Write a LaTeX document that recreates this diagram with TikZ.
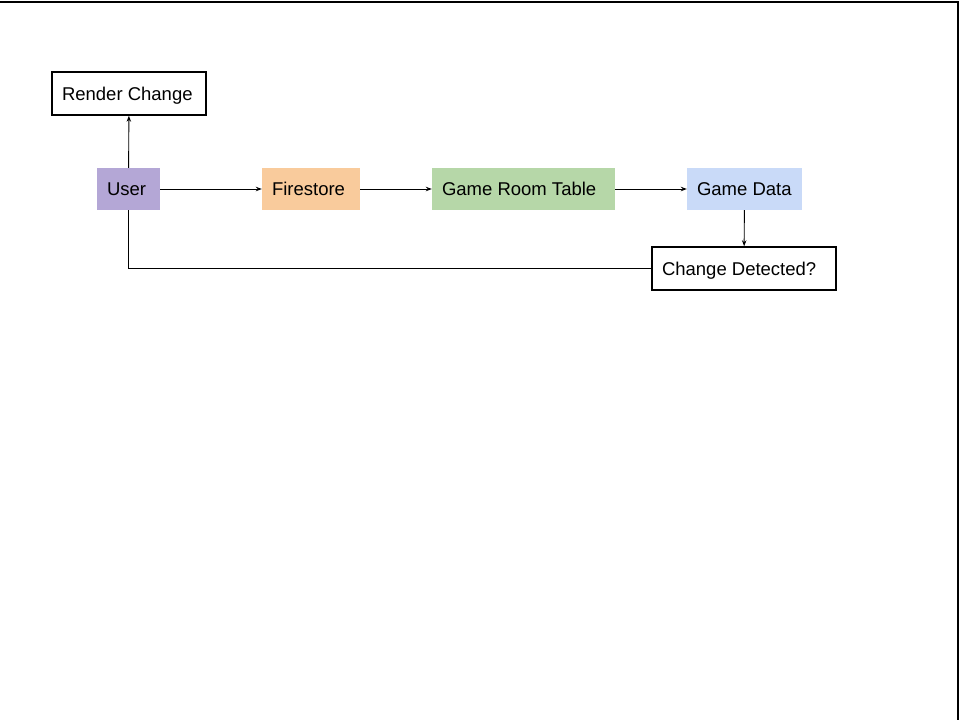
\documentclass[tikz,border=0pt]{standalone}
\usepackage{fontspec}
\setmainfont{Liberation Sans}
\usetikzlibrary{arrows.meta}
\definecolor{userc}{RGB}{180, 167, 214}
\definecolor{firec}{RGB}{249, 203, 156}
\definecolor{tablec}{RGB}{182, 215, 168}
\definecolor{datac}{RGB}{201, 218, 248}

\begin{document}
\begin{tikzpicture}[
   x=1pt, y=-1pt,
   every node/.style={font=\fontsize{18.5}{22}\selectfont, inner xsep=10, inner ysep=0,
                      align=flush left, text height=14, text depth=0.8},
   outbox/.style={draw=black, fill=white, line width=1.5, minimum height=43},
   fillbox/.style={draw=none, minimum height=42},
   link/.style={-{Stealth[length=6, width=4.5]}, line width=0.9}
  ]

  % Page frame
  \useasboundingbox (0, 0) rectangle (960, 720);
  \draw[line width=1.5] (0, 2) -- (958, 2) -- (958, 720);

  \node (render) at (129, 93.5) [outbox, text width=134] {Render Change};

  \node (user)  at (128.5, 189) [fillbox, fill=userc,  text width=43]  {User};
  \node (fire)  at (311, 189)   [fillbox, fill=firec,  text width=78]  {Firestore};
  \node (table) at (523.5, 189) [fillbox, fill=tablec, text width=163] {Game Room Table};
  \node (data)  at (744.5, 189) [fillbox, fill=datac,  text width=95]  {Game Data};

  \node (change) at (744, 268.5) [outbox, text width=164] {Change Detected?};

  \foreach \B/\E in {user/fire, fire/table, table/data} {
    \draw[link] (\B) -- (\E);
  }
  \draw[link] (user) -- (render);
  \draw[link] (data) -- (change);

  % Feedback back to the user
  \draw[line width=0.9] (change.west) -| (user.south);

\end{tikzpicture}
\end{document}
